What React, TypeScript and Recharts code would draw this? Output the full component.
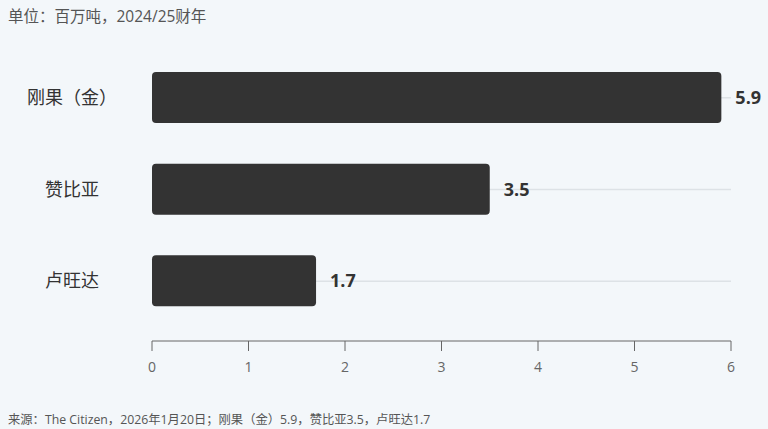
import React from "react";
import { BarChart, Bar, XAxis, YAxis, CartesianGrid, LabelList } from "recharts";

const categories = ["刚果（金）", "赞比亚", "卢旺达"];
const values = [5.9, 3.5, 1.7];
const xTicks = [0, 1, 2, 3, 4, 5, 6];
const titleText = "单位：百万吨，2024/25财年";
const sourceText = "来源：The Citizen，2026年1月20日；刚果（金）5.9，赞比亚3.5，卢旺达1.7";

const data = categories.map((name, i) => ({ name, value: values[i] }));

const FONT = '"Open Sans","Noto Sans CJK SC",sans-serif';
const Y_PAD_BOTTOM = 14;

const CategoryTick = (props: any) => {
  const { y, payload } = props;
  return (
    <text x={72} y={y - 1} textAnchor="middle" dominantBaseline="central" fontSize={18} fill="#333" fontFamily={FONT}>
      {payload.value}
    </text>
  );
};

const gridGen = (props: any) => {
  try {
    const s = props?.yAxis?.scale;
    let f: any = null;
    if (typeof s === "function") f = s;
    else if (s && typeof s.map === "function") f = (v: any) => s.map(v);
    else if (s && typeof s.scale === "function") f = s.scale;
    let bw = 0;
    if (s && typeof s.bandwidth === "function") bw = s.bandwidth();
    if (f) {
      const pts = categories.map((c) => f(c) + bw / 2);
      if (pts.every((p) => Number.isFinite(p))) return pts;
    }
  } catch (e) {}
  const off = props?.offset;
  if (!off) return [];
  const band = (off.height - Y_PAD_BOTTOM) / categories.length;
  return categories.map((_, i) => off.top + band * (i + 0.5));
};

export default function App() {
  return (
    <div style={{ position: "absolute", left: 0, top: 0, width: 768, height: 429, background: "#f3f7fa", fontFamily: FONT }}>
      <div style={{ position: "absolute", left: 8, top: 4, fontSize: 15.5, color: "#555" }}>{titleText}</div>
      <BarChart width={768} height={429} data={data} layout="vertical" margin={{ top: 52, right: 37, left: 0, bottom: 58 }}>
        <CartesianGrid horizontal={true} vertical={false} stroke="#dde2e6" strokeWidth={1.5} horizontalCoordinatesGenerator={gridGen} />
        <XAxis
          type="number"
          domain={[0, 6]}
          ticks={xTicks}
          height={30}
          tickSize={10}
          tickMargin={11}
          stroke="#666"
          tick={{ fill: "#666", fontSize: 14, fontFamily: FONT }}
          interval={0}
        />
        <YAxis
          type="category"
          dataKey="name"
          width={152}
          axisLine={false}
          tickLine={false}
          tick={<CategoryTick />}
          padding={{ top: 0, bottom: Y_PAD_BOTTOM }}
        />
        <Bar dataKey="value" fill="#333333" barSize={51} radius={4} isAnimationActive={false}>
          <LabelList dataKey="value" position="right" offset={14} fill="#333" fontSize={18} fontWeight={700} fontFamily={FONT} />
        </Bar>
      </BarChart>
      <div style={{ position: "absolute", left: 8, top: 410, fontSize: 12.3, color: "#555" }}>{sourceText}</div>
    </div>
  );
}
